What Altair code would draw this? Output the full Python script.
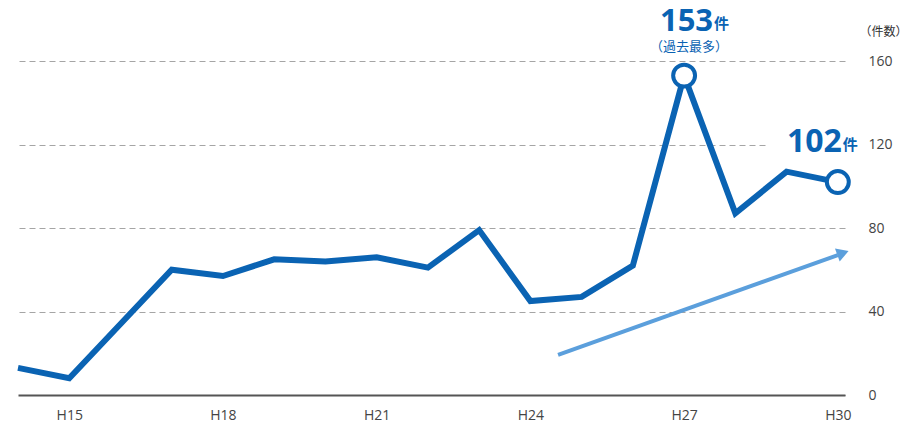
import altair as alt
import pandas as pd

# ---- data ----
years = list(range(14, 31))  # H14 .. H30
counts = [13, 8, 34, 60, 57, 65, 64, 66, 61, 79, 45, 47, 62, 153, 87, 107, 102]
tick_years = [15, 18, 21, 24, 27, 30]
y_ticks = [0, 40, 80, 120, 160]

hi_years = [27, 30]
hi_counts = [153, 102]
hi_numbers = ["153", "102"]
unit_label = "件"
note_label = "（過去最多）"
axis_unit = "（件数）"

arrow_years = [24.54, 30.0]
arrow_counts = [19.2, 67.0]
head_years = [30.1]
head_counts = [68.0]

mask_years = [28.6, 30.45]
mask_counts = [115, 130]

BLUE = "#0a63b3"
ARROW = "#5b9fdc"

df = pd.DataFrame({"year": years, "count": counts})
df_hi = pd.DataFrame({"year": hi_years, "count": hi_counts, "num": hi_numbers,
                      "unit": [unit_label] * 2, "note": [note_label, ""]})
df_arrow = pd.DataFrame({"year": arrow_years, "count": arrow_counts})
df_head = pd.DataFrame({"year": head_years, "count": head_counts})
df_mask = pd.DataFrame({"year": [mask_years[0]], "year2": [mask_years[1]],
                        "count": [mask_counts[0]], "count2": [mask_counts[1]]})

x = alt.X("year:Q",
          scale=alt.Scale(domain=[14, 30.14], nice=False, zero=False),
          axis=alt.Axis(values=tick_years, labelExpr="'H' + datum.value", title=None,
                        grid=False, ticks=False, domainColor="#555", domainWidth=2,
                        labelFontSize=14, labelColor="#444", labelPadding=13,
                        labelFont="Open Sans"))
y = alt.Y("count:Q",
          scale=alt.Scale(domain=[0, 160], nice=False),
          axis=alt.Axis(orient="right", values=y_ticks, ticks=False, domain=False,
                        grid=True, gridDash=[6, 4], gridColor="#a5a5a5", gridWidth=1,
                        labelAlign="left", labelBaseline="middle", labelPadding=23,
                        labelFontSize=14, labelColor="#444", labelFont="Open Sans",
                        title=axis_unit, titleAngle=0, titleAlign="left",
                        titleBaseline="bottom", titleX=14, titleY=-23,
                        titleFontSize=12, titleFontWeight="normal", titleColor="#333",
                        titleFont="Noto Sans CJK JP"))

mask = alt.Chart(df_mask).mark_rect(color="white").encode(
    x=alt.X("year:Q"), x2="year2:Q", y=alt.Y("count:Q"), y2="count2:Q")

line = alt.Chart(df).mark_line(color=BLUE, strokeWidth=6, strokeJoin="miter").encode(x=x, y=y)

arrow = alt.Chart(df_arrow).mark_line(color=ARROW, strokeWidth=4).encode(x="year:Q", y="count:Q")
head = alt.Chart(df_head).mark_point(shape="triangle-up", filled=True, size=190, angle=70,
                                     color=ARROW, opacity=1).encode(x="year:Q", y="count:Q")

circles = alt.Chart(df_hi).mark_point(shape="circle", filled=True, fill="white", stroke=BLUE,
                                      strokeWidth=4, size=480, opacity=1).encode(
    x="year:Q", y="count:Q")

num153 = alt.Chart(df_hi).transform_filter("datum.year == 27").mark_text(
    font="Open Sans", fontWeight="bold", fontSize=31, color=BLUE, align="right",
    baseline="alphabetic", dx=29, dy=-44.6).encode(x="year:Q", y="count:Q", text="num:N")
unit153 = alt.Chart(df_hi).transform_filter("datum.year == 27").mark_text(
    font="Noto Sans CJK JP", fontWeight="bold", fontSize=15, color=BLUE, align="left",
    baseline="alphabetic", dx=30, dy=-46.5).encode(x="year:Q", y="count:Q", text="unit:N")
note153 = alt.Chart(df_hi).transform_filter("datum.year == 27").mark_text(
    font="Noto Sans CJK JP", fontSize=13, color=BLUE, align="center",
    baseline="alphabetic", dx=5, dy=-24.6).encode(x="year:Q", y="count:Q", text="note:N")

num102 = alt.Chart(df_hi).transform_filter("datum.year == 30").mark_text(
    font="Open Sans", fontWeight="bold", fontSize=32, color=BLUE, align="right",
    baseline="alphabetic", dx=4, dy=-30).encode(x="year:Q", y="count:Q", text="num:N")
unit102 = alt.Chart(df_hi).transform_filter("datum.year == 30").mark_text(
    font="Noto Sans CJK JP", fontWeight="bold", fontSize=15, color=BLUE, align="left",
    baseline="alphabetic", dx=5, dy=-32).encode(x="year:Q", y="count:Q", text="unit:N")

chart = alt.layer(mask, line, arrow, head, circles, num153, unit153, note153, num102, unit102).properties(
    width=827, height=334,
    autosize=alt.AutoSizeParams(type="none"),
    padding={"left": 10, "top": 53, "right": 65, "bottom": 27},
).configure_view(stroke=None)

chart.save("out.html", embed_options={"renderer": "svg", "actions": False})
